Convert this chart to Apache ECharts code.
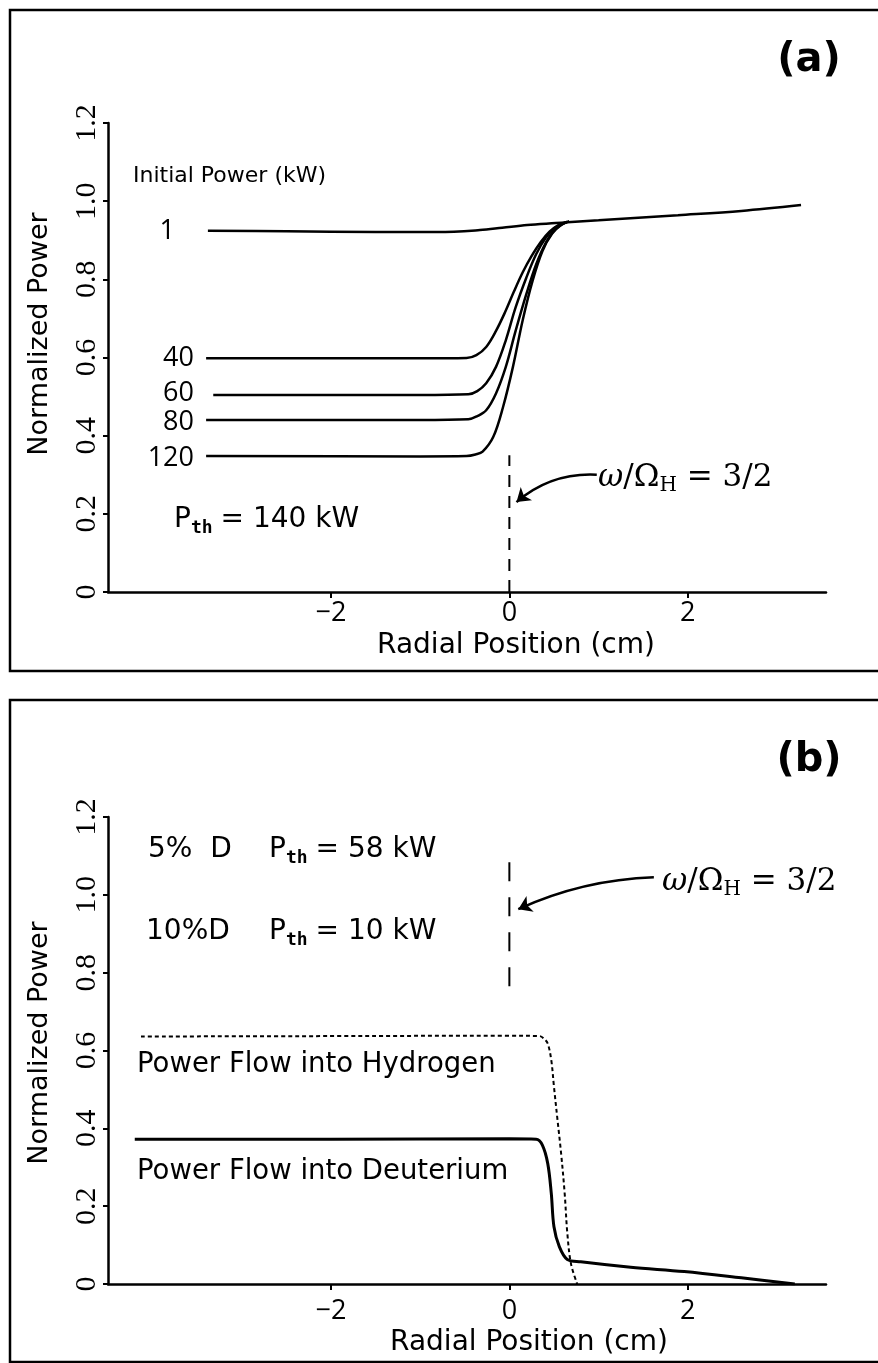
<!DOCTYPE html>
<html><head><meta charset="utf-8">
<script src="https://cdn.jsdelivr.net/npm/echarts@6/dist/echarts.min.js"></script>
<style>html,body{margin:0;padding:0;background:#fff}#c{width:878px;height:1363px}</style>
</head><body><div id="c"></div>
<script>
// ---------- data ----------
const xTickValues = [-2, 0, 2];
const yRange = [0, 1.2];
const xRange = [-4.5, 3.55];

// Panel (a): initial power curves (kW)
const curveLabelsA = ['1', '40', '60', '80', '120'];
const curveA1 = [[-3.38,0.924],[-2.5,0.923],[-1.5,0.921],[-0.8,0.921],[-0.33,0.926],[-0.08,0.932],[0.2,0.939],[0.52,0.944],[0.65,0.946],[1.0,0.951],[1.89,0.964],[2.6,0.975],[3.27,0.99]];
const curveA40 = [[-3.40,0.598],[-1.0,0.598],[-0.48,0.599],[-0.37,0.606],[-0.26,0.627],[-0.15,0.668],[-0.05,0.715],[0.05,0.768],[0.15,0.818],[0.25,0.860],[0.35,0.895],[0.45,0.922],[0.55,0.939],[0.65,0.947]];
const curveA60 = [[-3.32,0.504],[-1.0,0.504],[-0.46,0.506],[-0.36,0.514],[-0.26,0.534],[-0.15,0.576],[-0.04,0.644],[0.07,0.728],[0.19,0.804],[0.30,0.864],[0.41,0.907],[0.52,0.933],[0.65,0.947]];
const curveA80 = [[-3.40,0.440],[-1.0,0.440],[-0.46,0.442],[-0.36,0.450],[-0.26,0.465],[-0.15,0.508],[-0.04,0.576],[0.07,0.668],[0.19,0.762],[0.30,0.838],[0.41,0.894],[0.52,0.929],[0.65,0.947]];
const curveA120 = [[-3.40,0.348],[-1.0,0.347],[-0.48,0.348],[-0.38,0.352],[-0.30,0.359],[-0.18,0.397],[-0.07,0.474],[0.04,0.576],[0.15,0.696],[0.26,0.796],[0.37,0.872],[0.48,0.917],[0.59,0.941],[0.67,0.949]];
const resonanceA = [[0,0],[0,0.35]];
const arrowA = [[0.98,0.30],[0.08,0.23]];

// Panel (b)
const hydrogenB = [[-4.13,0.636],[-2.0,0.637],[0.0,0.638],[0.34,0.637],[0.39,0.630],[0.43,0.618],[0.47,0.575],[0.50,0.507],[0.54,0.421],[0.58,0.336],[0.62,0.233],[0.65,0.130],[0.69,0.053],[0.76,0.0]];
const deuteriumB = [[-4.20,0.372],[-2.0,0.372],[0.0,0.373],[0.30,0.372],[0.37,0.357],[0.43,0.310],[0.47,0.233],[0.50,0.147],[0.56,0.096],[0.65,0.063],[0.80,0.057],[1.36,0.043],[1.96,0.032],[2.6,0.016],[3.2,0.0]];
const resonanceB = [[0,0.765],[0,1.11]];
const arrowB = [[1.62,1.045],[0.10,0.963]];

// ---------- styling ----------
const SANS = "'DejaVu Sans','Open Sans',sans-serif";
const DIG = "'Open Sans','DejaVu Sans',sans-serif";
const SERIF = "'Liberation Serif','DejaVu Serif',serif";
const MATH = "'DejaVu Serif','Liberation Serif',serif";
const BLACK = '#000';

function xAxisFor(i, margin) {
  return {
    gridIndex: i, type: 'value', min: xRange[0], max: xRange[1],
    axisLine: { show: true, onZero: false, lineStyle: { color: BLACK, width: 2.5 } },
    axisTick: { show: true, customValues: xTickValues, length: 6, lineStyle: { color: BLACK, width: 2 } },
    axisLabel: { customValues: xTickValues, color: BLACK, fontFamily: DIG, fontSize: 27, margin: margin,
      formatter: v => (v < 0 ? '\u2212' + Math.abs(v) : String(v)) },
    splitLine: { show: false }
  };
}
function yAxisFor(i) {
  return {
    gridIndex: i, type: 'value', min: yRange[0], max: yRange[1], interval: 0.2,
    axisLine: { show: true, onZero: false, lineStyle: { color: BLACK, width: 2.5 } },
    axisTick: { show: true, length: 5, lineStyle: { color: BLACK, width: 2 } },
    axisLabel: { rotate: 90, color: BLACK, fontFamily: SERIF, fontSize: 30, margin: 6,
      formatter: v => (v === 0 ? '0' : v.toFixed(1)) },
    splitLine: { show: false }
  };
}
function curve(data, g, extra) {
  return Object.assign({
    type: 'line', xAxisIndex: g, yAxisIndex: g, data: data,
    showSymbol: false, symbol: 'none', smooth: 0.35, silent: true,
    lineStyle: { color: BLACK, width: 2.5 }, z: 3
  }, extra || {});
}
function arrow(coords, g, curveness) {
  return {
    type: 'lines', coordinateSystem: 'cartesian2d', xAxisIndex: g, yAxisIndex: g, silent: true,
    symbol: ['none', 'arrow'], symbolSize: 13,
    lineStyle: { color: BLACK, width: 2.5, curveness: curveness, opacity: 1 },
    data: [{ coords: coords }]
  };
}
function txt(x, y, text, size, opts) {
  return { type: 'text', x: x, y: y, silent: true,
    style: Object.assign({ text: text, fill: BLACK, font: size + 'px ' + SANS, align: 'left', verticalAlign: 'middle' }, opts || {}) };
}
function vtxt(x, y, text, size) {
  return { type: 'text', x: x, y: y, rotation: Math.PI / 2, silent: true,
    style: { text: text, fill: BLACK, font: size + 'px ' + SANS, align: 'center', verticalAlign: 'middle' } };
}
function mathTxt(x, y, parts) {
  return { type: 'text', x: x, y: y, silent: true,
    style: { text: parts, fill: BLACK, align: 'left', verticalAlign: 'middle',
      rich: {
        p: { fontFamily: SANS, fontSize: 28, color: BLACK, lineHeight: 32 },
        s: { fontFamily: "'DejaVu Sans Mono',monospace", fontWeight: 'bold', fontSize: 18, color: BLACK, padding: [16, 8, 0, 0] },
        i: { fontFamily: MATH, fontStyle: 'italic', fontSize: 31, color: BLACK, lineHeight: 32 },
        r: { fontFamily: MATH, fontSize: 31, color: BLACK, lineHeight: 32 },
        h: { fontFamily: MATH, fontSize: 20, color: BLACK, padding: [16, 0, 0, 0] }
      } } };
}

const option = {
  backgroundColor: '#fff',
  animation: false,
  grid: [
    { left: 108, top: 123, width: 718, height: 469 },
    { left: 108, top: 817, width: 718, height: 467 }
  ],
  xAxis: [xAxisFor(0, 8), xAxisFor(1, 14)],
  yAxis: [yAxisFor(0), yAxisFor(1)],
  series: [
    curve(curveA1, 0), curve(curveA40, 0), curve(curveA60, 0), curve(curveA80, 0), curve(curveA120, 0),
    curve(resonanceA, 0, { smooth: false, lineStyle: { color: BLACK, width: 2, type: [12, 9] } }),
    arrow(arrowA, 0, -0.2),
    curve(hydrogenB, 1, { lineStyle: { color: BLACK, width: 2, type: [4, 3] } }),
    curve(deuteriumB, 1, { lineStyle: { color: BLACK, width: 3 } }),
    curve(resonanceB, 1, { smooth: false, lineStyle: { color: BLACK, width: 2, type: [19, 16] } }),
    arrow(arrowB, 1, -0.1)
  ],
  graphic: [
    { type: 'rect', shape: { x: 10, y: 10, width: 900, height: 661 }, style: { fill: 'none', stroke: BLACK, lineWidth: 2.5 }, silent: true },
    { type: 'rect', shape: { x: 10, y: 700, width: 900, height: 662 }, style: { fill: 'none', stroke: BLACK, lineWidth: 2.5 }, silent: true },
    txt(809, 61, '(a)', 40, { align: 'center', font: 'bold 40px ' + SANS }),
    txt(809, 761, '(b)', 40, { align: 'center', font: 'bold 40px ' + SANS }),
    vtxt(40, 334, 'Normalized Power', 27),
    vtxt(40, 1043, 'Normalized Power', 27),
    txt(516, 646, 'Radial Position (cm)', 28, { align: 'center' }),
    txt(529, 1343, 'Radial Position (cm)', 28, { align: 'center' }),
    txt(133, 176, 'Initial Power (kW)', 22),
    txt(175, 231, curveLabelsA[0], 27, { align: 'right', font: '27px ' + DIG }),
    txt(194, 358, curveLabelsA[1], 27, { align: 'right', font: '27px ' + DIG }),
    txt(194, 393, curveLabelsA[2], 27, { align: 'right', font: '27px ' + DIG }),
    txt(194, 422, curveLabelsA[3], 27, { align: 'right', font: '27px ' + DIG }),
    txt(194, 458, curveLabelsA[4], 27, { align: 'right', font: '27px ' + DIG }),
    mathTxt(174, 520, '{p|P}{s|th}{p|= 140 kW}'),
    mathTxt(598, 478, '{i|\u03c9}{r|/\u03a9}{h|H}{r| = 3/2}'),
    txt(148, 850, '5%  D', 28),
    mathTxt(269, 850, '{p|P}{s|th}{p|= 58 kW}'),
    txt(146, 932, '10%D', 28),
    mathTxt(269, 932, '{p|P}{s|th}{p|= 10 kW}'),
    mathTxt(662, 882, '{i|\u03c9}{r|/\u03a9}{h|H}{r| = 3/2}'),
    txt(137, 1065, 'Power Flow into Hydrogen', 27.5),
    txt(137, 1172, 'Power Flow into Deuterium', 27.5)
  ]
};
const chart = echarts.init(document.getElementById('c'), null, { renderer: 'canvas' });
chart.setOption(option);
</script></body></html>
